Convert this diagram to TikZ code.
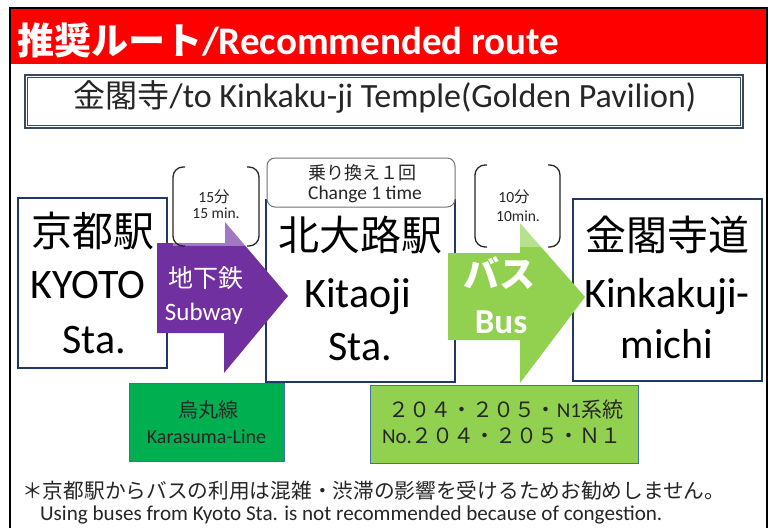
\documentclass[tikz,border=0pt]{standalone}
\usepackage{fontspec}
\setmainfont{Carlito}
\newfontfamily\jp{Noto Sans CJK JP}
\newcommand\fs[1]{\fontsize{#1}{#1}\selectfont}
\definecolor{navy}{HTML}{1F3864}
\definecolor{purp}{HTML}{7030A0}
\definecolor{lgreen}{HTML}{92D050}
\definecolor{dgreen}{HTML}{00B050}
\definecolor{frameblue}{HTML}{3B4A5E}
\definecolor{boxedge}{HTML}{41719C}
\definecolor{txtgray}{HTML}{262626}
\begin{document}
\begin{tikzpicture}[x=1pt,y=-1pt,
  txt/.style={inner sep=0pt, anchor=base},
  stbox/.style={draw=navy, line width=2.4pt, fill=white, inner sep=0pt},
  lowbox/.style={draw=boxedge, line width=1pt, inner sep=0pt},
  brk/.style={draw=black!85, line width=1.3pt, rounded corners=10pt},
  veil/.style={fill=white, fill opacity=0.35},
]
\useasboundingbox (0,0) rectangle (773,528);
\fill[white] (0,0) rectangle (773,528);
% frame and title band
\fill[red] (10,8) rectangle (767,64);
\draw[line width=2.5pt] (10,528) -- (10,8) -- (767,8) -- (767,528);
\node[txt, anchor=base west, text=white] (title) at (17,54)
  {\fs{37}{\jp\bfseries 推奨ルート}\fs{39}\bfseries /Recommended route};
% subtitle
\node[draw=frameblue, line width=2pt, minimum width=718pt, minimum height=53pt, inner sep=0pt] (subbox) at (384,101.5) {};
\draw[frameblue, line width=0.9pt] ([shift={(3.5,3.5)}]subbox.north west) rectangle ([shift={(-3.5,-3.5)}]subbox.south east);
\node[txt, text=txtgray] (subt) at (385,107) {\fs{32}{\jp 金閣寺}\fs{34}/to Kinkaku-ji Temple(Golden Pavilion)};
% station boxes
\node[stbox, minimum width=149pt, minimum height=170pt] (kyoto) at (92.5,283) {};
\node[stbox, minimum width=189pt, minimum height=182pt] (kitaoji) at (360.5,291) {};
\node[stbox, minimum width=189pt, minimum height=182pt] (kinkaku) at (667.5,290) {};
% lower boxes
\node[lowbox, fill=dgreen, minimum width=155pt, minimum height=78pt] (kara) at (206.5,422) {};
\node[lowbox, fill=lgreen, minimum width=268pt, minimum height=78pt] (busno) at (504,424) {};
% arrows
\fill[purp] (157,243) -- (225,243) -- (225,222) -- (288,296) -- (224,373) -- (224,333) -- (157,333) -- cycle;
\fill[lgreen] (448,253) -- (520,253) -- (520,223) -- (585,297) -- (520,383) -- (520,340) -- (448,340) -- cycle;
% time brackets
\fill[veil] (173,167) rectangle (259,246);
\fill[veil] (475,165) rectangle (560,247);
\draw[brk] (185,167) -- (173,167) -- (173,246) -- (185,246);
\draw[brk] (247,167) -- (259,167) -- (259,246) -- (247,246);
\draw[brk] (487,165) -- (475,165) -- (475,247) -- (487,247);
\draw[brk] (548,165) -- (560,165) -- (560,247) -- (548,247);
\node[txt, text=txtgray] (t15a) at (214,202) {\fs{15.5}15{\jp 分}};
\node[txt, text=txtgray] (t15b) at (216,218) {\fs{15.5}15 min.};
\node[txt, text=txtgray] (t10a) at (514,202) {\fs{15.5}10{\jp 分}};
\node[txt, text=txtgray] (t10b) at (518,221) {\fs{15.5}10min.};
% change box
\node[draw=black!55, line width=1pt, rounded corners=8pt, fill=white, minimum width=188pt, minimum height=49pt, inner sep=0pt] (chg) at (361,182.5) {};
\node[txt, text=txtgray] (chg1) at (362,179) {\fs{18}\jp 乗り換え１回};
\node[txt, text=txtgray] (chg2) at (365,199) {\fs{19.5}Change 1 time};
% station texts
\node[txt] (kyj) at (93,246) {\fs{41}\jp 京都駅};
\node[txt] (kye) at (88,298) {\fs{42}KYOTO};
\node[txt] (kys) at (94,353) {\fs{42}Sta.};
\node[txt] (kij) at (360,250) {\fs{41}\jp 北大路駅};
\node[txt] (kie) at (358,307) {\fs{42}Kitaoji};
\node[txt] (kis) at (360,360) {\fs{42}Sta.};
\node[txt] (knj) at (667,250) {\fs{41}\jp 金閣寺道};
\node[txt] (kne) at (667,307) {\fs{42}Kinkakuji-};
\node[txt] (kns) at (667,358) {\fs{42}michi};
% arrow labels
\node[txt, text=white] (subj) at (206,287) {\fs{25}\jp 地下鉄};
\node[txt, text=white] (sube) at (204,320) {\fs{25}Subway};
\node[txt, text=white] (busj) at (499,287) {\fs{36}\jp\bfseries バス};
\node[txt, text=white] (buse) at (501,333) {\fs{35}\bfseries Bus};
% lower box texts
\node[txt, text=black!85] (karaj) at (208,417) {\fs{20}\jp 烏丸線};
\node[txt, text=black!85] (karae) at (206.5,443) {\fs{20}Karasuma-Line};
\node[txt, text=black!85] (bus1) at (506,417) {\fs{21}{\jp ２０４・２０５・}N1{\jp 系統}};
\node[txt, text=black!85] (bus2) at (502,443) {\fs{21}No.{\jp ２０４・２０５・Ｎ１}};
% footnotes
\node[txt, anchor=base west, text=txtgray] (fn1) at (22,498) {\fs{20.7}\jp ＊京都駅からバスの利用は混雑・渋滞の影響を受けるためお勧めしません。};
\node[txt, anchor=base west, text=txtgray] (fn2) at (40,520) {\fs{21.1}Using buses from Kyoto Sta. is not recommended because of congestion.};
\end{tikzpicture}
\end{document}
